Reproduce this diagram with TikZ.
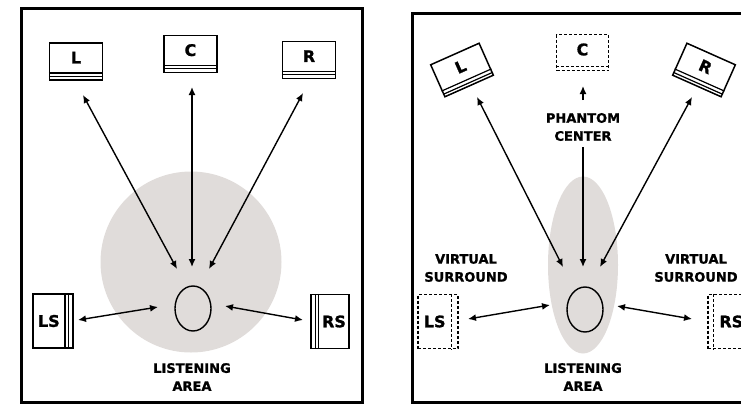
\documentclass[tikz,border=0pt]{standalone}
\usepackage{fontspec}
\setmainfont{DejaVu Sans}[BoldFeatures={FakeBold=1.2}]
\usetikzlibrary{shapes.geometric,arrows.meta,calc}

\definecolor{areagray}{RGB}{224,220,218}

\begin{document}
\begin{tikzpicture}[x=1pt,y=-1pt,
  roomframe/.style={draw,line width=3pt},
  zone/.style={fill=areagray,draw=none,inner sep=0pt},
  headring/.style={draw,ellipse,line width=1.4pt,inner sep=0pt,minimum width=36pt,minimum height=45pt},
  spk/.style={draw,line width=1.5pt,inner sep=0pt,minimum width=53pt,minimum height=37pt},
  sidespk/.style={draw,line width=1.5pt,inner sep=0pt,minimum width=40pt,minimum height=54pt},
  ghost/.style={dash pattern=on 3pt off 2pt},
  strip/.style={line width=1.2pt},
  lab/.style={font=\bfseries\fontsize{16}{16}\selectfont,inner sep=0pt},
  captext/.style={font=\bfseries\fontsize{13}{18}\selectfont,align=center,inner sep=0pt},
  link/.style={line width=1.4pt,{Latex[length=8pt,width=7pt]}-{Latex[length=8pt,width=7pt]}},
  oneway/.style={line width=1.4pt,-{Latex[length=8pt,width=7pt]}},
]
\useasboundingbox (0,0) rectangle (741,405);
\clip (0,0) rectangle (741,405);

% ---------- left panel: real 5-speaker layout ----------
\draw[roomframe] (21,8) rectangle (362,402);
\node[zone,circle,minimum size=181pt] (zoneA) at (191,262) {};
\node[headring] (headA) at (193,308.5) {};

\node[spk] (Lsp) at (76,61.5) {};
\draw[strip] ($(Lsp.south west)!0.2!(Lsp.north west)$) -- ($(Lsp.south east)!0.2!(Lsp.north east)$);
\draw[strip] ($(Lsp.south west)!0.12!(Lsp.north west)$) -- ($(Lsp.south east)!0.12!(Lsp.north east)$);
\node[lab] (Ltx) at ($(Lsp.south)!0.6!(Lsp.north)$) {L};

\node[spk] (Csp) at (190.5,54) {};
\draw[strip] ($(Csp.south west)!0.2!(Csp.north west)$) -- ($(Csp.south east)!0.2!(Csp.north east)$);
\draw[strip] ($(Csp.south west)!0.12!(Csp.north west)$) -- ($(Csp.south east)!0.12!(Csp.north east)$);
\node[lab] (Ctx) at ($(Csp.south)!0.6!(Csp.north)$) {C};

\node[spk] (Rsp) at (309,60) {};
\draw[strip] ($(Rsp.south west)!0.2!(Rsp.north west)$) -- ($(Rsp.south east)!0.2!(Rsp.north east)$);
\draw[strip] ($(Rsp.south west)!0.12!(Rsp.north west)$) -- ($(Rsp.south east)!0.12!(Rsp.north east)$);
\node[lab] (Rtx) at ($(Rsp.south)!0.6!(Rsp.north)$) {R};

\node[sidespk] (LSsp) at (53,321) {};
\draw[strip] ($(LSsp.north east)!0.21!(LSsp.north west)$) -- ($(LSsp.south east)!0.21!(LSsp.south west)$);
\draw[strip] ($(LSsp.north east)!0.13!(LSsp.north west)$) -- ($(LSsp.south east)!0.13!(LSsp.south west)$);
\node[lab] (LStx) at ($(LSsp.west)!0.4!(LSsp.east)$) {LS};

\node[sidespk,minimum width=38pt] (RSsp) at (330,321.5) {};
\draw[strip] ($(RSsp.north west)!0.21!(RSsp.north east)$) -- ($(RSsp.south west)!0.21!(RSsp.south east)$);
\draw[strip] ($(RSsp.north west)!0.13!(RSsp.north east)$) -- ($(RSsp.south west)!0.13!(RSsp.south east)$);
\node[lab] (RStx) at ($(RSsp.east)!0.4!(RSsp.west)$) {RS};

\coordinate (aL1) at (83,95);   \coordinate (aL2) at (177,269);
\coordinate (aC1) at (192,87);  \coordinate (aC2) at (192,267);
\coordinate (aR1) at (303,93);  \coordinate (aR2) at (209,269);
\coordinate (aLS1) at (78,320); \coordinate (aLS2) at (158,307);
\coordinate (aRS1) at (225,306);\coordinate (aRS2) at (303,320);
\draw[link] (aL1) -- (aL2);
\draw[link] (aC1) -- (aC2);
\draw[link] (aR1) -- (aR2);
\draw[link] (aLS1) -- (aLS2);
\draw[link] (aRS1) -- (aRS2);

\node[captext] (areaA) at (192,377) {LISTENING\\AREA};

% ---------- right panel: virtual surround layout ----------
\draw[roomframe] (412,13) rectangle (760,402);
\node[zone,ellipse,minimum width=70pt,minimum height=177pt] (zoneB) at (583,265) {};
\node[headring] (headB) at (585,309.5) {};

\node[spk,rotate=24,minimum height=35pt] (Lsp2) at (462,70) {};
\draw[strip] ($(Lsp2.south west)!0.2!(Lsp2.north west)$) -- ($(Lsp2.south east)!0.2!(Lsp2.north east)$);
\draw[strip] ($(Lsp2.south west)!0.1!(Lsp2.north west)$) -- ($(Lsp2.south east)!0.1!(Lsp2.north east)$);
\node[lab,rotate=24] (Ltx2) at ($(Lsp2.south)!0.6!(Lsp2.north)$) {L};

\node[spk,rotate=-24,minimum height=35pt] (Rsp2) at (704,70) {};
\draw[strip] ($(Rsp2.south west)!0.2!(Rsp2.north west)$) -- ($(Rsp2.south east)!0.2!(Rsp2.north east)$);
\draw[strip] ($(Rsp2.south west)!0.1!(Rsp2.north west)$) -- ($(Rsp2.south east)!0.1!(Rsp2.north east)$);
\node[lab,rotate=-24] (Rtx2) at ($(Rsp2.south)!0.6!(Rsp2.north)$) {R};

\node[spk,ghost,minimum width=52pt,minimum height=36pt] (Csp2) at (582.5,52.5) {};
\draw[strip,ghost] ($(Csp2.south west)!0.12!(Csp2.north west)$) -- ($(Csp2.south east)!0.12!(Csp2.north east)$);
\node[lab] (Ctx2) at ($(Csp2.south)!0.58!(Csp2.north)$) {C};

\node[sidespk,ghost] (LSsp2) at (438,321.5) {};
\draw[strip,ghost] ($(LSsp2.north east)!0.18!(LSsp2.north west)$) -- ($(LSsp2.south east)!0.18!(LSsp2.south west)$);
\node[lab] (LStx2) at ($(LSsp2.west)!0.42!(LSsp2.east)$) {LS};

\node[sidespk,ghost] (RSsp2) at (728,321.5) {};
\draw[strip,ghost] ($(RSsp2.north west)!0.15!(RSsp2.north east)$) -- ($(RSsp2.south west)!0.15!(RSsp2.south east)$);
\node[lab] (RStx2) at ($(RSsp2.east)!0.42!(RSsp2.west)$) {RS};

\coordinate (bL1) at (477,97);  \coordinate (bL2) at (563,267);
\coordinate (bR1) at (692,97);  \coordinate (bR2) at (600,267);
\coordinate (bP1) at (583,100); \coordinate (bP2) at (583,86);
\coordinate (bC1) at (583,147); \coordinate (bC2) at (583,267);
\coordinate (bLS1) at (468,319);\coordinate (bLS2) at (550,305);
\coordinate (bRS1) at (617,306);\coordinate (bRS2) at (692,319);
\draw[link] (bL1) -- (bL2);
\draw[link] (bR1) -- (bR2);
\draw[oneway] (bP1) -- (bP2);
\draw[oneway] (bC1) -- (bC2);
\draw[link] (bLS1) -- (bLS2);
\draw[link] (bRS1) -- (bRS2);

\node[captext] (phantom) at (583,127) {PHANTOM\\CENTER};
\node[captext] (vsL) at (466,268) {VIRTUAL\\SURROUND};
\node[captext] (vsR) at (696,268) {VIRTUAL\\SURROUND};
\node[captext] (areaB) at (583,377) {LISTENING\\AREA};
\end{tikzpicture}
\end{document}
